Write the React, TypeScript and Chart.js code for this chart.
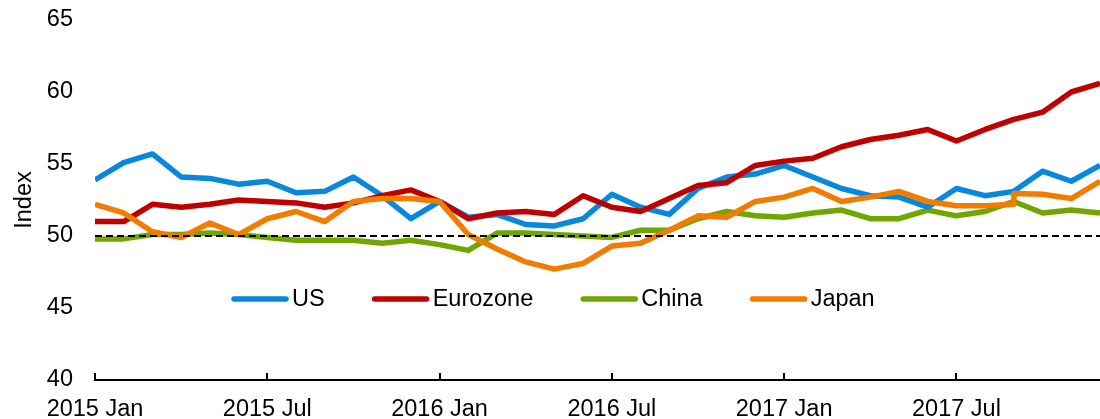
import React, { useEffect, useRef } from "react";
import { Chart, registerables } from "chart.js";

Chart.register(...registerables);

const MONTHS: string[] = [
  "2015 Jan", "2015 Feb", "2015 Mar", "2015 Apr", "2015 May", "2015 Jun",
  "2015 Jul", "2015 Aug", "2015 Sep", "2015 Oct", "2015 Nov", "2015 Dec",
  "2016 Jan", "2016 Feb", "2016 Mar", "2016 Apr", "2016 May", "2016 Jun",
  "2016 Jul", "2016 Aug", "2016 Sep", "2016 Oct", "2016 Nov", "2016 Dec",
  "2017 Jan", "2017 Feb", "2017 Mar", "2017 Apr", "2017 May", "2017 Jun",
  "2017 Jul", "2017 Aug", "2017 Sep", "2017 Oct", "2017 Nov", "2017 Dec",
];

const TICK_EVERY = 6;

const US: number[] = [
  53.9, 55.1, 55.7, 54.1, 54.0, 53.6, 53.8, 53.0, 53.1, 54.1, 52.8, 51.2,
  52.4, 51.3, 51.5, 50.8, 50.7, 51.2, 52.9, 52.0, 51.5, 53.3, 54.1, 54.3,
  54.9, 54.1, 53.3, 52.8, 52.7, 52.0, 53.3, 52.8, 53.1, 54.5, 53.8, 54.9,
];

const EUROZONE: number[] = [
  51.0, 51.0, 52.2, 52.0, 52.2, 52.5, 52.4, 52.3, 52.0, 52.3, 52.8, 53.2,
  52.4, 51.2, 51.6, 51.7, 51.5, 52.8, 52.0, 51.7, 52.6, 53.5, 53.7, 54.9,
  55.2, 55.4, 56.2, 56.7, 57.0, 57.4, 56.6, 57.4, 58.1, 58.6, 60.0, 60.6,
];

const CHINA: number[] = [
  49.8, 49.8, 50.1, 50.1, 50.2, 50.1, 49.9, 49.7, 49.7, 49.7, 49.5, 49.7,
  49.4, 49.0, 50.2, 50.2, 50.1, 50.0, 49.9, 50.4, 50.4, 51.2, 51.7, 51.4,
  51.3, 51.6, 51.8, 51.2, 51.2, 51.8, 51.4, 51.7, 52.4, 51.6, 51.8, 51.6,
];

const JAPAN: number[] = [
  52.2, 51.6, 50.3, 49.9, 50.9, 50.1, 51.2, 51.7, 51.0, 52.4, 52.6, 52.6,
  52.4, 50.1, 49.1, 48.2, 47.7, 48.1, 49.3, 49.5, 50.4, 51.4, 51.3, 52.4,
  52.7, 53.3, 52.4, 52.7, 53.1, 52.4, 52.1, 52.1, 52.2, 52.9, 52.6, 53.8,
];

// Japan's series shows a revision jump within Sep 2017
const JAPAN_REVISION_INDEX = 32;
const JAPAN_REVISION_VALUE = 52.95;

const REFERENCE_LEVEL = 50;

const Y_MIN = 40;
const Y_MAX = 65;
const Y_STEP = 5;

const COLORS = {
  US: "#0788DC",
  Eurozone: "#C00000",
  China: "#70A600",
  Japan: "#F27C00",
};

const FONT_FAMILY = "'Liberation Sans', Arial, sans-serif";
const FONT_SIZE = 23.5;

function toPoints(values: number[]) {
  return values.map((v, i) => ({ x: i, y: v }));
}

function japanPoints() {
  const pts = toPoints(JAPAN);
  pts.splice(JAPAN_REVISION_INDEX + 1, 0, {
    x: JAPAN_REVISION_INDEX,
    y: JAPAN_REVISION_VALUE,
  });
  return pts;
}

const refLinePlugin = {
  id: "refLine",
  afterDatasetsDraw(chart: any) {
    const { ctx, chartArea, scales } = chart;
    const y = scales.y.getPixelForValue(REFERENCE_LEVEL);
    ctx.save();
    ctx.strokeStyle = "#000";
    ctx.lineWidth = 2;
    ctx.setLineDash([7, 4]);
    ctx.beginPath();
    ctx.moveTo(chartArea.left, y);
    ctx.lineTo(chartArea.right, y);
    ctx.stroke();
    ctx.restore();
  },
};

const innerTicksPlugin = {
  id: "innerTicks",
  afterDraw(chart: any) {
    const { ctx, chartArea, scales } = chart;
    const xs = scales.x;
    ctx.save();
    ctx.strokeStyle = "#000";
    ctx.lineWidth = 2;
    xs.ticks.forEach((t: any) => {
      const x = Math.round(xs.getPixelForValue(t.value));
      ctx.beginPath();
      ctx.moveTo(x, chartArea.bottom);
      ctx.lineTo(x, chartArea.bottom - 7);
      ctx.stroke();
    });
    ctx.restore();
  },
};

const inlineLegendPlugin = {
  id: "inlineLegend",
  afterDraw(chart: any) {
    const { ctx, chartArea } = chart;
    const items = chart.data.datasets
      .filter((d: any) => d.legendOrder !== undefined)
      .sort((a: any, b: any) => a.legendOrder - b.legendOrder);
    ctx.save();
    ctx.font = `${FONT_SIZE}px ${FONT_FAMILY}`;
    ctx.textBaseline = "middle";
    ctx.textAlign = "left";
    let x = chartArea.left + 137;
    const y = chartArea.top + 279;
    items.forEach((d: any) => {
      ctx.strokeStyle = d.borderColor;
      ctx.lineWidth = 5.5;
      ctx.lineCap = "round";
      ctx.beginPath();
      ctx.moveTo(x + 2, y);
      ctx.lineTo(x + 54, y);
      ctx.stroke();
      ctx.fillStyle = "#000";
      ctx.fillText(d.label, x + 60, y + 1);
      x += 60 + ctx.measureText(d.label).width + 48;
    });
    ctx.restore();
  },
};

export default function App() {
  const canvasRef = useRef<HTMLCanvasElement | null>(null);

  useEffect(() => {
    document.body.style.margin = "0";
    const canvas = canvasRef.current;
    if (!canvas) return;
    const font = { family: FONT_FAMILY, size: FONT_SIZE };
    const lineCommon = {
      borderWidth: 5.5,
      pointRadius: 0,
      pointHoverRadius: 0,
      tension: 0,
      fill: false,
      borderJoinStyle: "round" as const,
      borderCapStyle: "butt" as const,
    };
    const chart = new Chart(canvas, {
      type: "line",
      data: {
        datasets: [
          { ...lineCommon, label: "US", data: toPoints(US), borderColor: COLORS.US, order: 3, legendOrder: 0 } as any,
          { ...lineCommon, label: "Eurozone", data: toPoints(EUROZONE), borderColor: COLORS.Eurozone, order: 2, legendOrder: 1 } as any,
          { ...lineCommon, label: "China", data: toPoints(CHINA), borderColor: COLORS.China, order: 4, legendOrder: 2 } as any,
          { ...lineCommon, label: "Japan", data: japanPoints(), borderColor: COLORS.Japan, order: 1, legendOrder: 3 } as any,
        ],
      },
      options: {
        responsive: false,
        animation: false,
        maintainAspectRatio: false,
        layout: { padding: { top: 20, right: -2, left: 0, bottom: 0 } },
        plugins: {
          legend: { display: false },
          tooltip: { enabled: false },
        },
        scales: {
          x: {
            type: "linear",
            min: 0,
            max: MONTHS.length - 1,
            afterBuildTicks(scale: any) {
              scale.ticks = scale.ticks.filter((t: any) => t.value % TICK_EVERY === 0);
            },
            afterFit(scale: any) {
              scale.height = 39;
              scale.paddingLeft = 0;
              scale.paddingRight = 0;
            },
            ticks: {
              stepSize: TICK_EVERY,
              autoSkip: false,
              maxRotation: 0,
              color: "#000",
              font,
              padding: 15,
              callback: (v: any) => MONTHS[Number(v)] ?? "",
            },
            grid: { display: false, drawTicks: false },
            border: { display: true, color: "#000", width: 2 },
          },
          y: {
            min: Y_MIN,
            max: Y_MAX,
            afterFit(scale: any) {
              scale.width = 95;
              scale.paddingTop = 0;
              scale.paddingBottom = 0;
            },
            ticks: { stepSize: Y_STEP, color: "#000", font, padding: 22 },
            grid: { display: false, drawTicks: false },
            border: { display: false },
            title: {
              display: true,
              text: "Index",
              color: "#000",
              font,
              padding: { top: 10, bottom: 0 },
            },
          },
        },
      },
      plugins: [refLinePlugin, innerTicksPlugin, inlineLegendPlugin],
    });
    return () => chart.destroy();
  }, []);

  return (
    <div style={{ width: 1100, height: 419, overflow: "hidden" }}>
      <canvas ref={canvasRef} width={1100} height={419} />
    </div>
  );
}
